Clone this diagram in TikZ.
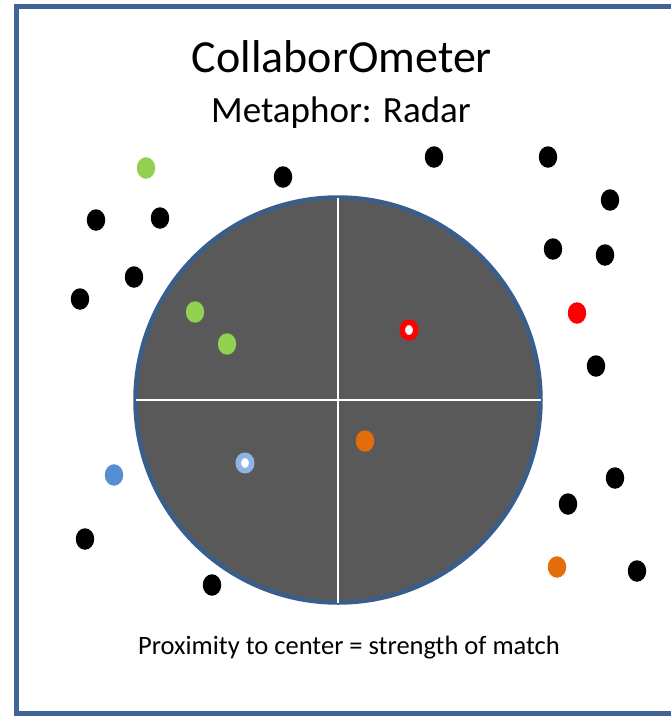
\documentclass[tikz,border=0pt]{standalone}
\usepackage{fontspec}
\setmainfont{Carlito}
\usepackage{tikz}
\usetikzlibrary{shapes,positioning}
\definecolor{frameblue}{HTML}{3F6394}
\definecolor{radarblue}{HTML}{3A5E8C}
\definecolor{radargray}{HTML}{595959}
\definecolor{limegreen}{HTML}{92D050}
\definecolor{matchorange}{HTML}{E46C0A}
\definecolor{matchblue}{HTML}{558ED5}
\definecolor{paleblue}{HTML}{8EB4E3}
\tikzstyle{blip} = [ellipse, inner sep=0pt, minimum width=18.5pt, minimum height=21.5pt]
\tikzstyle{ringblip} = [ellipse, inner sep=0pt, minimum width=13.5pt, minimum height=15.5pt, line width=5.5pt, fill=white]
\tikzstyle{crosshair} = [white, line width=2pt, shorten <=2.25pt, shorten >=2.25pt]
\begin{document}
\begin{tikzpicture}[x=1pt,y=-1pt]
	\useasboundingbox (0,0) rectangle (671,716);
	\draw [frameblue, line width=5pt] (16,6) rectangle (690,713);

	\node (title) [anchor=base, font=\fontsize{46}{50}\selectfont] at (342,72) {CollaborOmeter};
	\node (subtitle) [anchor=base, font=\fontsize{37}{42}\selectfont] at (341,122) {Metaphor: Radar};
	\node (caption) [anchor=base, font=\fontsize{26.5}{30}\selectfont] at (349,654) {Proximity to center = strength of match};

	\node (radar) [circle, inner sep=0pt, minimum size=405pt, fill=radargray, draw=radarblue, line width=4.5pt] at (338,400) {};
	\draw [crosshair] (radar.north) -- (radar.south);
	\draw [crosshair] (radar.west) -- (radar.east);

	% blips inside the radar
	\node (g2) [blip, fill=limegreen] at (195,312) {};
	\node (g3) [blip, fill=limegreen] at (227,344) {};
	\node (r2) [ringblip, draw=red] at (409,330) {};
	\node (o1) [blip, fill=matchorange] at (365,441) {};
	\node (b2) [ringblip, draw=paleblue] at (245,463) {};

	% blips outside the radar
	\node (g1) [blip, fill=limegreen] at (146,168) {};
	\node (r1) [blip, fill=red] at (577,313) {};
	\node (o2) [blip, fill=matchorange] at (557,567) {};
	\node (b1) [blip, fill=matchblue] at (114,475) {};

	\node (k1) [blip, fill=black] at (283,177) {};
	\node (k2) [blip, fill=black] at (434,157) {};
	\node (k3) [blip, fill=black] at (548,157) {};
	\node (k4) [blip, fill=black] at (610,200) {};
	\node (k5) [blip, fill=black] at (96,220) {};
	\node (k6) [blip, fill=black] at (160,218) {};
	\node (k7) [blip, fill=black] at (553,249) {};
	\node (k8) [blip, fill=black] at (605,255) {};
	\node (k9) [blip, fill=black] at (134,277) {};
	\node (k10) [blip, fill=black] at (80,299) {};
	\node (k11) [blip, fill=black] at (596,366) {};
	\node (k12) [blip, fill=black] at (615,478) {};
	\node (k13) [blip, fill=black] at (568,504) {};
	\node (k14) [blip, fill=black] at (85,539) {};
	\node (k15) [blip, fill=black] at (212,585) {};
	\node (k16) [blip, fill=black] at (637,571) {};
\end{tikzpicture}
\end{document}
